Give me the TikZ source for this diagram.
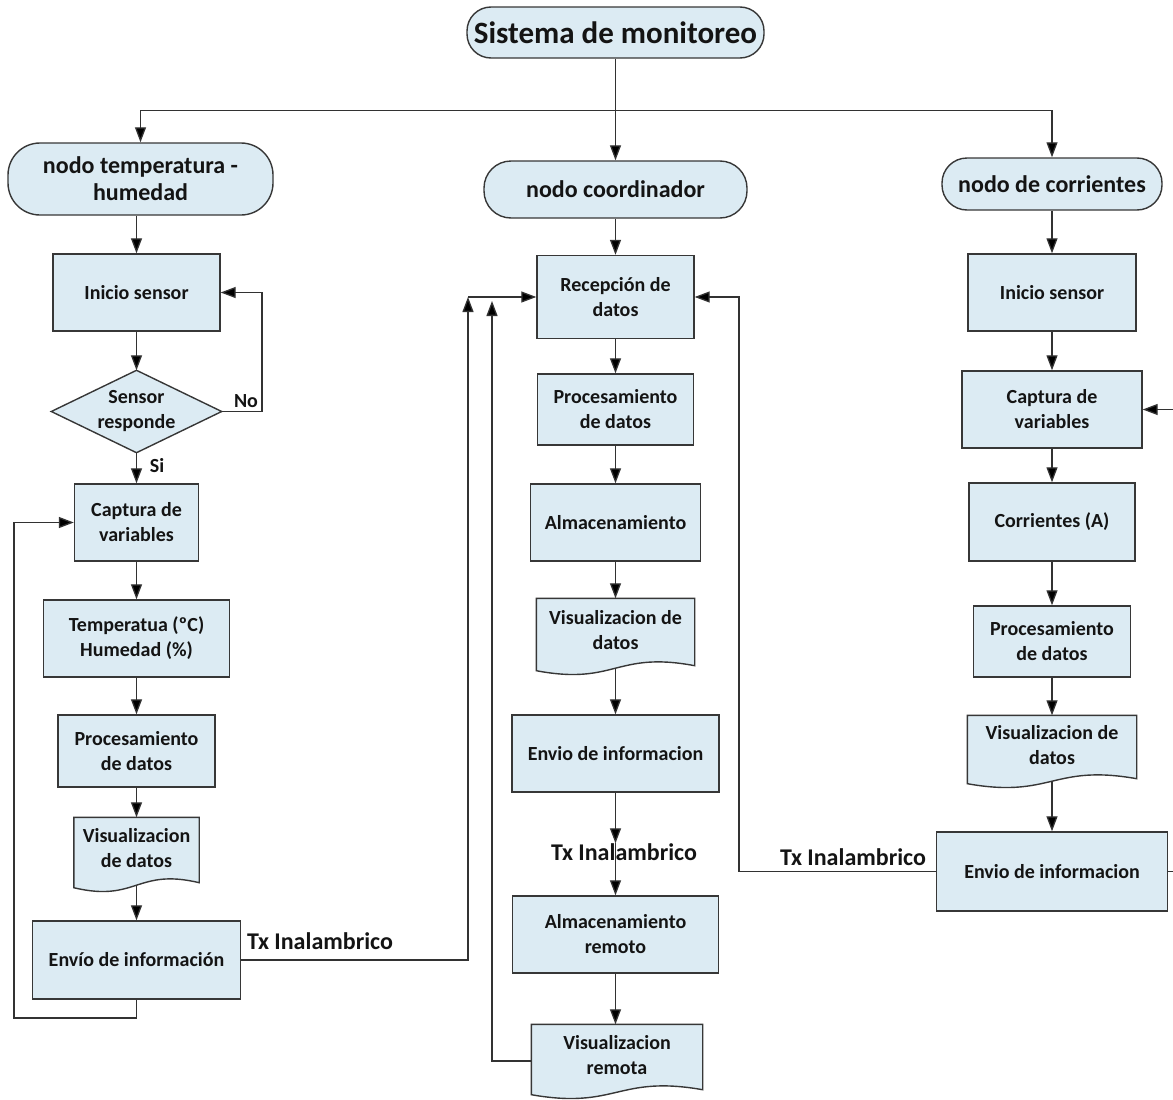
\documentclass[tikz,border=0pt]{standalone}
\usepackage{fontspec}
\setmainfont{Carlito}
\usetikzlibrary{arrows.meta,calc,backgrounds}

\definecolor{boxfill}{RGB}{220,235,243}
\definecolor{edge}{RGB}{55,55,55}
\definecolor{wire}{RGB}{50,50,50}
\definecolor{ink}{RGB}{20,20,20}

\tikzset{
  base/.style={draw=edge, line width=1.4pt, fill=boxfill, text=ink,
    font=\bfseries\fontsize{20}{25}\selectfont, align=center, inner sep=0pt},
  box/.style n args={2}{base, rectangle, minimum width=#1, minimum height=#2},
  terminal/.style n args={3}{base, rectangle, minimum width=#1, minimum height=#2,
    rounded corners=#3, font=\bfseries\fontsize{24}{27}\selectfont},
  docbox/.style n args={2}{base, draw=none, fill=none, minimum width=#1, minimum height=#2},
  decision/.style n args={2}{base, draw=none, fill=none, minimum width=#1, minimum height=#2},
  shapeline/.style={draw=edge, line width=1.4pt, fill=boxfill},
  lbl/.style={font=\bfseries\fontsize{24}{28}\selectfont, text=ink, inner sep=0pt},
  lblsmall/.style={font=\bfseries\fontsize{20}{24}\selectfont, text=ink, inner sep=0pt},
  conn/.style={draw=wire, line width=1.3pt, -{Triangle[length=15pt,width=11pt,fill=black]}},
}

% document symbol: flat top, wavy bottom
\newcommand\docwave[1]{%
  \path[shapeline] (#1.north west) -- (#1.north east) -- ($(#1.south east)+(0,4)$)
    .. controls ($(#1.south)+(0,-11)$) and ($(#1.south)+(0,24)$) ..
    ($(#1.south west)+(0,9)$) -- cycle;}

\begin{document}
\begin{tikzpicture}[x=1pt,y=-1pt]
\useasboundingbox (0,0) rectangle (1173,1100);

% heads
\node[terminal={297}{51}{24}, font=\bfseries\fontsize{31}{34}\selectfont] (title) at (615.5,32.5) {Sistema de monitoreo};
\node[terminal={265}{72}{32}] (nth) at (140.5,179) {nodo temperatura -\\humedad};
\node[terminal={263}{57}{27}] (ncoord) at (615.5,189.5) {nodo coordinador};
\node[terminal={220}{52}{25}] (ncorr) at (1052,184) {nodo de corrientes};

% temperature / humidity node
\node[box={167}{77}] (ini1) at (136.5,292.5) {Inicio sensor};
\node[decision={169}{81}] (dec) at (136.5,411.5) {Sensor\\responde};
\node[box={124}{77}] (cap1) at (136.5,522.5) {Captura de\\variables};
\node[box={186}{77}] (temp) at (136.5,638.5) {Temperatua (ºC)\\Humedad (\%)};
\node[box={157}{72}] (proc1) at (136.5,751) {Procesamiento\\de datos};
\node[docbox={124}{60}] (vis1) at (136.5,848) {Visualizacion\\de datos};
\node[box={208}{78}] (env1) at (136.5,960) {Envío de información};
\node[lbl] (tx1) at (320,941) {Tx Inalambrico};
\node[lblsmall] (no) at (246,401) {No};
\node[lblsmall] (si) at (157,466) {Si};

% coordinator node
\node[box={157}{83}] (rec) at (615.5,297) {Recepción de\\datos};
\node[box={156}{71}] (proc2) at (615.5,409.5) {Procesamiento\\de datos};
\node[box={170}{77}] (alm) at (615.5,522.5) {Almacenamiento};
\node[docbox={157}{62}] (vis2) at (615.5,630) {Visualizacion de\\datos};
\node[box={207}{77}] (env2) at (615.5,753.5) {Envio de informacion};
\node[lbl] (tx2) at (624,852) {Tx Inalambrico};
\node[box={206}{77}] (alm2) at (615.5,934.5) {Almacenamiento\\remoto};
\node[docbox={170}{60}] (vis3) at (617,1055) {Visualizacion\\remota};

% current node
\node[box={168}{77}] (ini3) at (1052,292.5) {Inicio sensor};
\node[box={180}{77}] (cap3) at (1052,409.5) {Captura de\\variables};
\node[box={166}{78}] (corr) at (1052,522) {Corrientes (A)};
\node[box={157}{71}] (proc3) at (1052,641.5) {Procesamiento\\de datos};
\node[docbox={168}{58}] (vis4) at (1052,745) {Visualizacion de\\datos};
\node[box={231}{79}] (env3) at (1052,871.5) {Envio de informacion};
\node[lbl] (tx3) at (853,857) {Tx Inalambrico};

% outlines behind the texts
\begin{pgfonlayer}{background}
  \docwave{vis1}
  \docwave{vis2}
  \docwave{vis3}
  \docwave{vis4}
  \path[shapeline] (dec.north) -- (dec.east) -- (dec.south) -- (dec.west) -- cycle;
\end{pgfonlayer}

% distribution from the system head
\coordinate (split) at ($(title.south)+(0,52)$);
\draw[conn] (title.south) -- (ncoord.north);
\draw[conn] (split) -| (nth.north);
\draw[conn] (split) -| (ncorr.north);

% temperature / humidity flow
\draw[conn] (nth.south -| ini1.north) -- (ini1.north);
\draw[conn] (ini1) -- (dec);
\draw[conn] (dec) -- (cap1);
\coordinate (nocorner) at (262,411.5);
\draw[conn] (dec.east) -- (nocorner) |- (ini1.east);
\draw[conn] (cap1) -- (temp);
\draw[conn] (temp) -- (proc1);
\draw[conn] (proc1) -- (vis1);
\draw[conn] ($(vis1.south)+(0,6.5)$) -- (env1);
\coordinate (lp1) at (14,1018);
\draw[conn] (env1.south) |- (lp1) |- (cap1.west);
\coordinate (up1) at (468,297);
\draw[conn] (env1.east) -| (up1);
\draw[conn] (up1) -- (up1 -| rec.west);

% coordinator flow
\draw[conn] (ncoord) -- (rec);
\draw[conn] (rec) -- (proc2);
\draw[conn] (proc2) -- (alm);
\draw[conn] (alm) -- (vis2);
\draw[conn] ($(vis2.south)+(0,6.5)$) -- (env2);
\coordinate (txin) at (tx2.north -| env2.south);
\draw[conn] (env2.south) -- (txin);
\draw[conn] (txin) -- (alm2.north);
\draw[conn] (alm2) -- (vis3.north -| alm2.south);
\coordinate (up2) at (492,301);
\draw[conn] ($(vis3.west)+(0,6)$) -| (up2);

% current flow
\draw[conn] (ncorr) -- (ini3);
\draw[conn] (ini3) -- (cap3);
\draw[conn] (cap3) -- (corr);
\draw[conn] (corr) -- (proc3);
\draw[conn] (proc3) -- (vis4);
\draw[conn] ($(vis4.south)+(0,6.5)$) -- (env3);
\coordinate (rt) at (1182,409.5);
\draw[conn] (env3.east) -- (env3.east -| rt) -- (rt) -- (cap3.east);
\coordinate (lt) at (739,297);
\draw[conn] (env3.west) -| (lt) -- (rec.east);
\end{tikzpicture}
\end{document}
